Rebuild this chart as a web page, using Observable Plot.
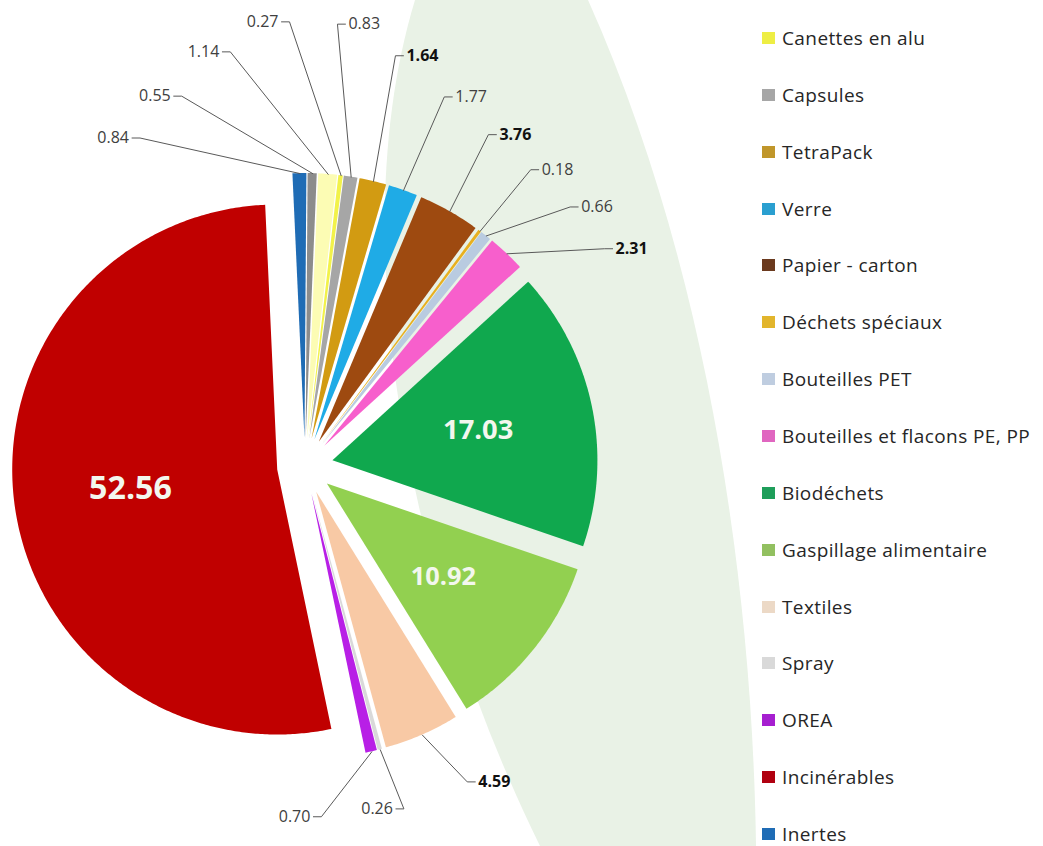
<!DOCTYPE html>
<html><head><meta charset="utf-8">
<script src="https://cdn.jsdelivr.net/npm/d3@7"></script>
<script src="https://cdn.jsdelivr.net/npm/@observablehq/plot@0.6"></script>
<style>
html,body{margin:0;padding:0;background:#fff;overflow:hidden;}
#wrap{position:relative;width:1043px;height:846px;}
#band{position:absolute;left:0;top:0;}
#chart{position:absolute;left:0;top:0;}
#legend{position:absolute;left:762px;top:0;font-family:"Open Sans",sans-serif;font-size:19px;letter-spacing:0.4px;color:#262626;}
.item{position:absolute;left:0;white-space:nowrap;display:flex;align-items:center;height:24px;}
.sw{width:13px;height:12px;margin-right:7px;flex:none;}
</style></head><body>
<div id="wrap">
<svg id="band" width="1043" height="846"><path d="M415,0 C345,230 400,560 540,846 L756,846 C752,560 700,250 588,0 Z" fill="#e9f2e6"/></svg>
<div id="chart"></div>
<div id="legend"></div>
</div>
<script>
// ---- data (pie order, clockwise) ----
const categories = ["Canettes en alu", "Capsules", "TetraPack", "Verre", "Papier - carton", "Déchets spéciaux", "Bouteilles PET", "Bouteilles et flacons PE, PP", "Biodéchets", "Gaspillage alimentaire", "Textiles", "Spray", "OREA", "Incinérables", "Inertes", "Autres métaux", "Autres"];
const values = [0.27, 0.83, 1.64, 1.77, 3.76, 0.18, 0.66, 2.31, 17.03, 10.92, 4.59, 0.26, 0.70, 52.56, 0.84, 0.55, 1.14];
const colors = ["#f2f24a", "#a6a6a6", "#d29b12", "#1fabe6", "#9e4a10", "#e8b020", "#b9cbe0", "#f75fcc", "#10a84e", "#92d050", "#f8c9a5", "#d9d9d9", "#b81fe6", "#c00000", "#1f6cb5", "#8c8c8c", "#fcfcb4"];
const legendLabels = ["Canettes en alu", "Capsules", "TetraPack", "Verre", "Papier - carton", "Déchets spéciaux", "Bouteilles PET", "Bouteilles et flacons PE, PP", "Biodéchets", "Gaspillage alimentaire", "Textiles", "Spray", "OREA", "Incinérables", "Inertes"];
const legendColors = ["#eeee44", "#a6a6a6", "#c0962a", "#2a9fd0", "#6b3a1e", "#e2b52c", "#bfcde0", "#e066c0", "#1e9e5a", "#92c060", "#ecd9c6", "#d9d9d9", "#a61fd0", "#b00010", "#1f6cb5"];
const emphasized = new Set(["TetraPack", "Papier - carton", "Bouteilles et flacons PE, PP", "Textiles"]);

// ---- layout ----
const deg = Math.PI / 180;
const R = 265, C = [305, 466], explodePx = 28, rotation = 6.5;
const ex = explodePx / R;
const dir = a => [Math.sin(a * deg), -Math.cos(a * deg)];
const total = d3.sum(values);
let acc = 0;
const slices = categories.map((cat, i) => {
  const a0 = rotation + acc / total * 360; acc += values[i];
  const a1 = rotation + acc / total * 360;
  let mid = (a0 + a1) / 2; if (mid >= 270) mid -= 360;
  const [ux, uy] = dir(mid);
  return {cat, value: values[i], a0, a1, mid, ax: ex * ux, ay: ex * uy};
});

const sectorRows = slices.flatMap(s => {
  const n = Math.max(2, Math.ceil((s.a1 - s.a0) / 0.5));
  return d3.range(n + 1).map(k => {
    const a = s.a0 + (s.a1 - s.a0) * k / n; const [px, py] = dir(a);
    return {cat: s.cat, ax: s.ax, ay: s.ay, x: s.ax + px, y: s.ay + py};
  });
});

// outside labels: spread by angle, clusters centred on their median bisector
function spread(list, G) {
  let pos = list.map(s => s.mid);
  for (let iter = 0; iter < 50 && list.length; iter++) {
    const clusters = []; let cur = [0];
    for (let i = 1; i < list.length; i++) {
      if (pos[i] - pos[i - 1] < G + 1e-6) cur.push(i); else { clusters.push(cur); cur = [i]; }
    }
    clusters.push(cur);
    const next = pos.slice();
    for (const cl of clusters) {
      const med = d3.median(cl.map(i => list[i].mid));
      cl.forEach((i, k) => next[i] = med + (k - (cl.length - 1) / 2) * G);
    }
    const changed = next.some((v, i) => Math.abs(v - pos[i]) > 1e-9);
    pos = next; if (!changed) break;
  }
  return list.map((s, i) => ({s, t: pos[i]}));
}
const outside = slices.filter(s => s.value < 10).sort((a, b) => a.mid - b.mid);
const above = outside.filter(s => Math.cos(s.mid * deg) >= 0);
const below = outside.filter(s => Math.cos(s.mid * deg) < 0);
const placed = [...spread(above, 8.25), ...spread(below, 13.5)];

const h = 8 / R;
const labelRows = [], leaderRows = [];
placed.forEach(({s, t}) => {
  const c = Math.cos(t * deg), sn = Math.sin(t * deg);
  const rl = (368 + 15 * sn - 18 * (1 - c) / 2 + 80 * Math.exp(-((t / 20) ** 2))) / R;
  const [ux, uy] = dir(t);
  const lx = ux * rl, ly = uy * rl;
  const right = sn > 0.15 * (1 - c);
  const [mx, my] = dir(s.mid);
  leaderRows.push({cat: s.cat, x: s.ax + mx, y: s.ay + my});
  leaderRows.push({cat: s.cat, x: lx + (right ? -h : h), y: ly});
  leaderRows.push({cat: s.cat, x: lx, y: ly});
  labelRows.push({cat: s.cat, x: lx, y: ly, label: s.value.toFixed(2), right, bold: emphasized.has(s.cat)});
});

const inside = slices.filter(s => s.value >= 10).map(s => {
  const [ux, uy] = dir(s.mid);
  return {cat: s.cat, x: s.ax + 0.56 * ux, y: s.ay + 0.56 * uy, label: s.value.toFixed(2), fs: 15 + 10 * Math.log10(s.value)};
});

const marks = [
  Plot.area(sectorRows, {x1: "ax", y1: "ay", x2: "x", y2: "y", z: "cat", fill: "cat"}),
  Plot.line(leaderRows, {x: "x", y: "y", z: "cat", stroke: "#595959", strokeWidth: 1}),
  Plot.text(inside, {x: "x", y: "y", text: "label", fontSize: "fs", fontWeight: "bold", fill: "#f3f7ee"})
];
for (const right of [true, false]) for (const bold of [true, false]) {
  marks.push(Plot.text(labelRows.filter(d => d.right === right && d.bold === bold), {
    x: "x", y: "y", text: "label", textAnchor: right ? "start" : "end", dx: right ? 3 : -3,
    fontSize: 16, fontWeight: bold ? "bold" : "normal", fill: bold ? "#111" : "#404040"
  }));
}

const chart = Plot.plot({
  width: 700, height: 846, margin: 0,
  style: {background: "none", fontFamily: "'Open Sans', sans-serif", overflow: "visible"},
  x: {domain: [-1, 1], range: [C[0] - R, C[0] + R], axis: null},
  y: {domain: [-1, 1], range: [C[1] - R, C[1] + R], axis: null},
  color: {domain: categories, range: colors},
  marks
});
document.getElementById("chart").appendChild(chart);

// legend
const leg = document.getElementById("legend");
legendLabels.forEach((name, i) => {
  const div = document.createElement("div");
  div.className = "item";
  div.style.top = (38 + i * 56.85 - 12) + "px";
  const sw = document.createElement("span"); sw.className = "sw"; sw.style.background = legendColors[i];
  const tx = document.createElement("span"); tx.textContent = name;
  div.appendChild(sw); div.appendChild(tx); leg.appendChild(div);
});
</script>
</body></html>
